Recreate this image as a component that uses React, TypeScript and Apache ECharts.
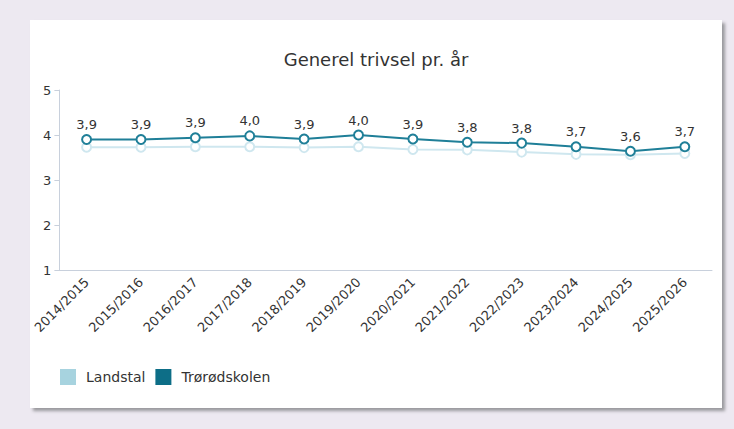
import React, { useEffect, useRef } from "react";
import * as echarts from "echarts";

const categories = [
  "2014/2015", "2015/2016", "2016/2017", "2017/2018", "2018/2019", "2019/2020",
  "2020/2021", "2021/2022", "2022/2023", "2023/2024", "2024/2025", "2025/2026",
];
const landstal = [3.73, 3.73, 3.74, 3.74, 3.72, 3.74, 3.68, 3.67, 3.62, 3.57, 3.56, 3.59];
const troerod = [3.9, 3.9, 3.94, 3.98, 3.91, 4.0, 3.91, 3.84, 3.82, 3.74, 3.64, 3.74];
const yTicks = [1, 2, 3, 4, 5];

const DARK = "#1f7f98";
const DARK_LEGEND = "#0d6e87";
const LIGHT = "#cfe7ef";
const LIGHT_LEGEND = "#a7d3df";
const FONT = "DejaVu Sans";

export default function App() {
  const ref = useRef<HTMLDivElement>(null);
  useEffect(() => {
    if (!ref.current) return;
    const chart = echarts.init(ref.current, undefined, { renderer: "svg" });
    chart.setOption({
      animation: false,
      title: {
        text: "Generel trivsel pr. år",
        left: "center",
        top: 25,
        textStyle: { fontFamily: FONT, fontSize: 18, fontWeight: "normal", color: "#333" },
      },
      legend: {
        left: 25,
        top: 344,
        itemWidth: 16,
        itemHeight: 16,
        itemGap: 10,
        icon: "rect",
        textStyle: { fontFamily: FONT, fontSize: 14, color: "#333", padding: [0, 0, 0, 5] },
        data: [
          { name: "Landstal", itemStyle: { color: LIGHT_LEGEND, borderWidth: 0 } },
          { name: "Trørødskolen", itemStyle: { color: DARK_LEGEND, borderWidth: 0 } },
        ],
      },
      grid: { left: 29, right: 10, top: 70, bottom: 138, containLabel: false },
      xAxis: {
        type: "category",
        data: categories,
        boundaryGap: true,
        axisLine: { lineStyle: { color: "#c8d0dc", width: 1 } },
        axisTick: { alignWithLabel: true, length: 6, lineStyle: { color: "#c8d0dc" } },
        axisLabel: {
          rotate: 45,
          interval: 0,
          margin: 10,
          fontFamily: FONT,
          fontSize: 13,
          color: "#333",
        },
      },
      yAxis: {
        type: "value",
        min: yTicks[0],
        max: yTicks[yTicks.length - 1],
        interval: 1,
        splitLine: { show: false },
        axisLine: { show: true, lineStyle: { color: "#c8d0dc" } },
        axisTick: { show: true, length: 5, lineStyle: { color: "#c8d0dc" } },
        axisLabel: { fontFamily: FONT, fontSize: 13, color: "#333", margin: 8 },
      },
      series: [
        {
          name: "Landstal",
          type: "line",
          data: landstal,
          symbol: "circle",
          symbolSize: 9,
          lineStyle: { color: LIGHT, width: 2 },
          itemStyle: { color: "#fff", borderColor: LIGHT, borderWidth: 2 },
          z: 1,
        },
        {
          name: "Trørødskolen",
          type: "line",
          data: troerod,
          symbol: "circle",
          symbolSize: 9,
          lineStyle: { color: DARK, width: 2 },
          itemStyle: { color: "#fff", borderColor: DARK, borderWidth: 2 },
          label: {
            show: true,
            position: "top",
            distance: 3,
            fontFamily: FONT,
            fontSize: 13,
            color: "#333",
            formatter: (p: any) => Number(p.value).toFixed(1).replace(".", ","),
          },
          z: 2,
        },
      ],
    });
    return () => chart.dispose();
  }, []);

  return (
    <div
      style={{
        position: "fixed",
        left: 0,
        top: 0,
        width: 734,
        height: 429,
        background: "#ede9f1",
      }}
    >
      <div
        style={{
          position: "absolute",
          left: 30,
          top: 20,
          width: 692,
          height: 388,
          background: "#fff",
          boxShadow: "3px 3px 3px #9a9a9e",
        }}
      >
        <div ref={ref} style={{ width: 692, height: 388 }} />
      </div>
    </div>
  );
}
